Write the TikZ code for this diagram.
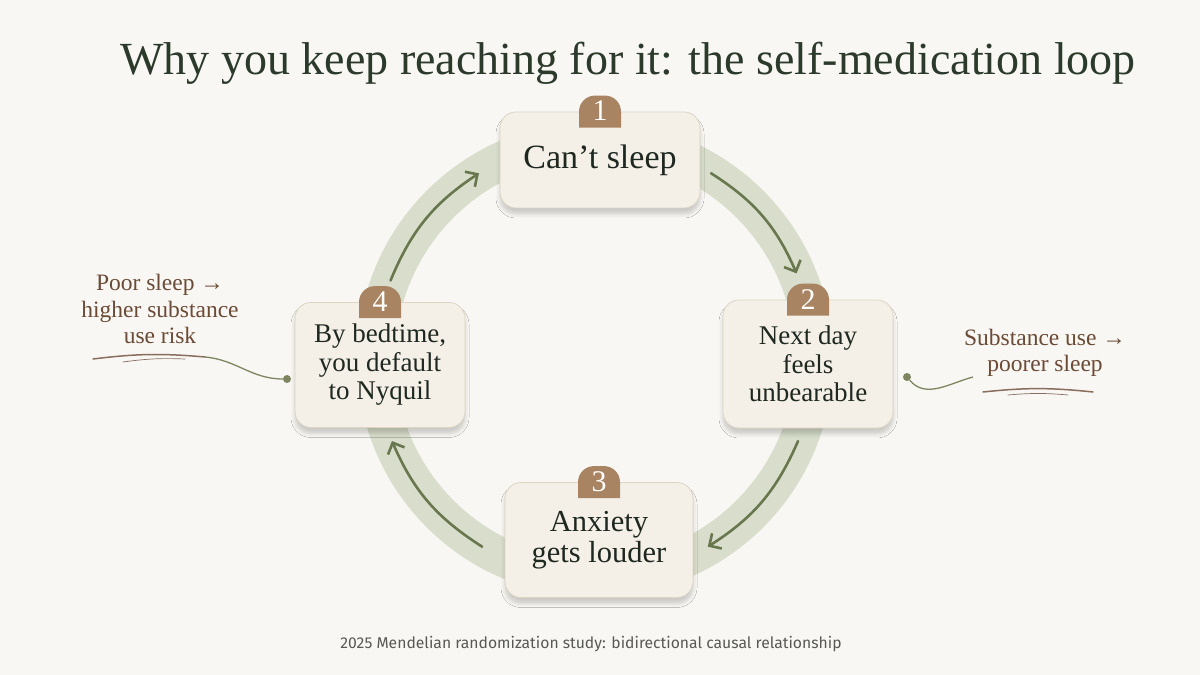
\documentclass[tikz,border=0pt]{standalone}
\usepackage{fontspec}
\setmainfont{Liberation Serif}
\newfontfamily\footfont{Fira Sans}
\usetikzlibrary{arrows.meta,calc,shadows.blur}

\definecolor{paper}{RGB}{248,247,243}
\definecolor{titleInk}{RGB}{44,58,44}
\definecolor{boxInk}{RGB}{30,40,33}
\definecolor{boxFill}{RGB}{244,240,231}
\definecolor{boxEdge}{RGB}{221,212,196}
\definecolor{tabBrown}{RGB}{168,132,98}
\definecolor{ringSage}{RGB}{216,222,203}
\definecolor{arrowOlive}{RGB}{104,119,78}
\definecolor{noteBrown}{RGB}{107,74,54}
\definecolor{dotOlive}{RGB}{125,134,96}
\definecolor{footGray}{RGB}{88,88,84}

\begin{document}
\begin{tikzpicture}[
    x=1pt, y=1pt,
    % Step boxes and number tabs
    step_box/.style={
        rectangle,
        rounded corners=16pt,
        fill=boxFill,
        draw=boxEdge,
        line width=0.8pt,
        align=center,
        text=boxInk,
        inner sep=4pt,
        blur shadow={shadow xshift=0pt, shadow yshift=-6pt, shadow blur radius=4pt, shadow opacity=18}
    },
    tab_fill/.style={fill=tabBrown},
    tab_num/.style={text=white, font=\fontsize{30}{30}\selectfont, inner sep=0pt},
    % Ring and arrows
    ring_band/.style={draw=ringSage, line width=38pt},
    loop_arrow/.style={
        draw=arrowOlive,
        line width=2.6pt,
        line cap=round,
        -{Straight Barb[length=9pt, width=18pt]}
    },
    % Side notes
    side_note/.style={text=noteBrown, align=center, font=\fontsize{23.5}{26.5}\selectfont},
    note_dot/.style={circle, fill=dotOlive, minimum size=8pt, inner sep=0pt},
    note_link/.style={draw=dotOlive, line width=1.3pt},
    swash/.style={draw=noteBrown!80, line width=1.5pt, line cap=round}
]

    % ==================== BACKGROUND ====================
    \useasboundingbox (0,0) rectangle (1200,675);
    \fill[paper] (0,0) rectangle (1200,675);

    % ==================== TITLE ====================
    \node[anchor=base, text=titleInk, font=\fontsize{46}{46}\selectfont] (title) at (628,600)
        {Why you keep reaching for it: the self-medication loop};

    % ==================== RING ====================
    \coordinate (ring) at (595,316);
    \draw[ring_band] (ring) circle[radius=219pt];

    % Arrow end points on the ring (clockwise: 1 -> 2 -> 3 -> 4 -> 1)
    \coordinate (a12s) at ($(ring)+(58:219)$);
    \coordinate (a12e) at ($(ring)+(23:219)$);
    \coordinate (a23s) at ($(ring)+(-22:219)$);
    \coordinate (a23e) at ($(ring)+(-59:219)$);
    \coordinate (a34s) at ($(ring)+(-121:219)$);
    \coordinate (a34e) at ($(ring)+(-158:219)$);
    \coordinate (a41s) at ($(ring)+(159:219)$);
    \coordinate (a41e) at ($(ring)+(122:219)$);

    \draw[loop_arrow] (a12s) to[bend left=17] (a12e);
    \draw[loop_arrow] (a23s) to[bend left=17] (a23e);
    \draw[loop_arrow] (a34s) to[bend left=17] (a34e);
    \draw[loop_arrow] (a41s) to[bend left=17] (a41e);

    % ==================== STEP BOXES ====================
    \node[step_box, minimum width=200pt, minimum height=96pt, font=\fontsize{34}{36}\selectfont]
        (s1) at (600,515) {Can't sleep};
    \node[step_box, minimum width=170pt, minimum height=128pt, font=\fontsize{27}{28.5}\selectfont]
        (s2) at (808,311) {Next day\\feels\\unbearable};
    \node[step_box, minimum width=188pt, minimum height=115pt, font=\fontsize{30.5}{31}\selectfont]
        (s3) at (599,135) {Anxiety\\gets louder};
    \node[step_box, minimum width=170pt, minimum height=125pt, font=\fontsize{27}{28.5}\selectfont]
        (s4) at (380,310) {By bedtime,\\you default\\to Nyquil};

    % Number tabs on the top edge of each box
    \foreach \s/\n in {s1/1, s2/2, s3/3, s4/4} {
        \fill[tab_fill] ($(\s.north)+(-21,-16)$) -- ++(0,16)
            arc[start angle=180, end angle=90, radius=16pt] -- ++(10,0)
            arc[start angle=90, end angle=0, radius=16pt] -- ++(0,-16) -- cycle;
        \node[tab_num] (n\n) at ($(\s.north)+(0,0.5)$) {\n};
    }

    % ==================== SIDE NOTES ====================
    % Left: poor sleep leads to substance use
    \node[side_note] (note_l) at (160,366) {Poor sleep →\\higher substance\\use risk};
    \node[note_dot] (dot_l) at (287,296) {};
    \coordinate (swash_l_a) at (93,316);
    \coordinate (swash_l_b) at (205,318);
    \draw[swash] (swash_l_a) to[bend left=6] (swash_l_b);
    \draw[swash, line width=0.7pt] ($(swash_l_a)+(30,-3)$) to[bend left=5] ($(swash_l_b)+(-20,-2)$);
    \draw[note_link] (swash_l_b) to[out=-5, in=180] (dot_l);

    % Right: substance use leads to poorer sleep
    \node[side_note] (note_r) at (1045,322) {Substance use →\\poorer sleep};
    \node[note_dot] (dot_r) at (907,298) {};
    \coordinate (link_r) at (973,298);
    \draw[note_link] (dot_r) to[out=-50, in=195] (link_r);
    \coordinate (swash_r_a) at (983,283);
    \coordinate (swash_r_b) at (1093,283);
    \draw[swash] (swash_r_a) to[bend left=6] (swash_r_b);
    \draw[swash, line width=0.7pt] ($(swash_r_a)+(25,-3)$) to[bend left=5] ($(swash_r_b)+(-25,-3)$);

    % ==================== FOOTER ====================
    \node[font=\footfont\fontsize{15.7}{16}\selectfont, text=footGray] (foot) at (591,31)
        {2025 Mendelian randomization study: bidirectional causal relationship};

\end{tikzpicture}
\end{document}
